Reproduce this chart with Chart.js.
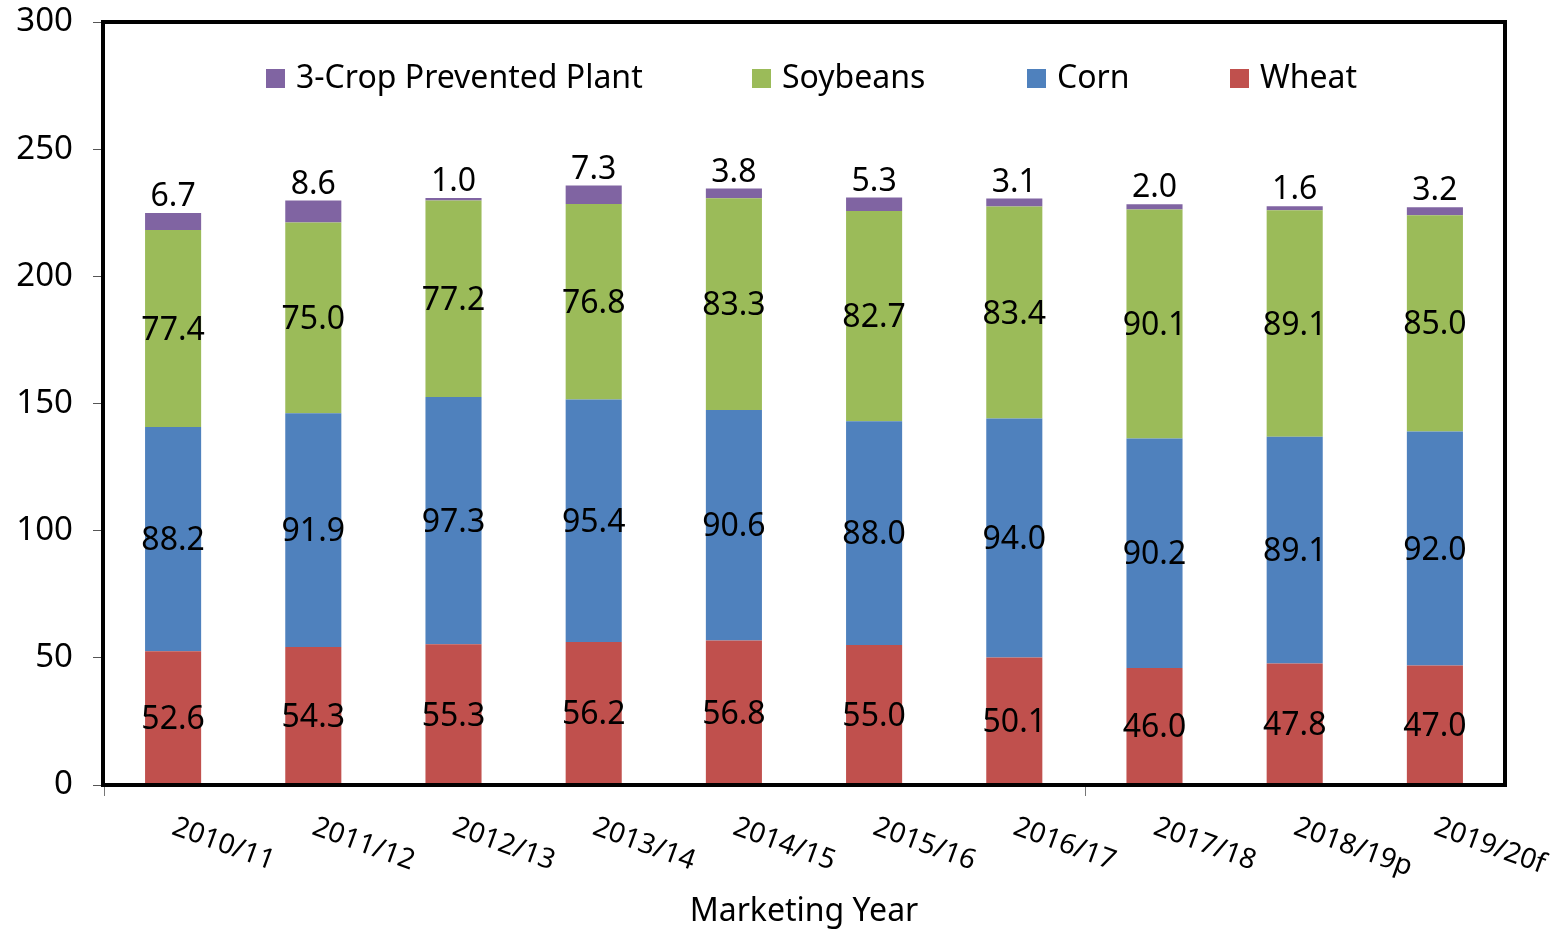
<!DOCTYPE html>
<html>
<head>
<meta charset="utf-8">
<script src="https://cdn.jsdelivr.net/npm/chart.js@4"></script>
<style>
  html, body { margin: 0; padding: 0; background: #fff; }
  #wrap { width: 1554px; height: 931px; }
</style>
</head>
<body>
<div id="wrap"><canvas id="cropChart"></canvas></div>
<script>
// data
const years = ['2010/11', '2011/12', '2012/13', '2013/14', '2014/15', '2015/16', '2016/17', '2017/18', '2018/19p', '2019/20f'];
const wheat = [52.6, 54.3, 55.3, 56.2, 56.8, 55.0, 50.1, 46.0, 47.8, 47.0];
const corn = [88.2, 91.9, 97.3, 95.4, 90.6, 88.0, 94.0, 90.2, 89.1, 92.0];
const soybeans = [77.4, 75.0, 77.2, 76.8, 83.3, 82.7, 83.4, 90.1, 89.1, 85.0];
const preventedPlant = [6.7, 8.6, 1.0, 7.3, 3.8, 5.3, 3.1, 2.0, 1.6, 3.2];
const yTicks = [0, 50, 100, 150, 200, 250, 300];

const FONT = '"Noto Sans", "Open Sans", sans-serif';

// legend order as in the picture (top of stack first)
const legendOrder = [3, 2, 1, 0];

const extras = {
    id: 'extras',
    afterDatasetsDraw(chart) {
        const { ctx, chartArea } = chart;
        const xs = chart.scales.x;
        ctx.save();

        // values inside segments, prevented plant on top
        ctx.fillStyle = '#000';
        ctx.font = '32px ' + FONT;
        ctx.textAlign = 'center';
        chart.data.datasets.forEach((ds, i) => {
            const meta = chart.getDatasetMeta(i);
            meta.data.forEach((bar, j) => {
                const txt = ds.data[j].toFixed(1);
                if (i === 3) {
                    ctx.textBaseline = 'bottom';
                    ctx.fillText(txt, bar.x, bar.y);
                } else {
                    ctx.textBaseline = 'middle';
                    ctx.fillText(txt, bar.x, (bar.y + bar.base) / 2 + 2);
                }
            });
        });

        // frame round the plot
        ctx.strokeStyle = '#000';
        ctx.lineWidth = 4;
        ctx.strokeRect(chartArea.left, chartArea.top, chartArea.right - chartArea.left, chartArea.bottom - chartArea.top);

        // small ticks under the x axis
        ctx.strokeStyle = '#777';
        ctx.lineWidth = 1;
        const step = (xs.right - xs.left) / years.length;
        [0, 7].forEach(k => {
            const x = Math.round(xs.left + step * k) + 1.5;
            ctx.beginPath();
            ctx.moveTo(x, chartArea.bottom + 2);
            ctx.lineTo(x, chartArea.bottom + 11);
            ctx.stroke();
        });

        // slanted category labels
        ctx.fillStyle = '#000';
        ctx.font = '28px ' + FONT;
        ctx.textAlign = 'left';
        ctx.textBaseline = 'top';
        years.forEach((y, j) => {
            const x = xs.getPixelForValue(j);
            ctx.save();
            ctx.translate(x + 5, chartArea.bottom + 28);
            ctx.rotate(20 * Math.PI / 180);
            ctx.fillText(y, 0, 0);
            ctx.restore();
        });

        // axis title
        ctx.font = '32px ' + FONT;
        ctx.textAlign = 'center';
        ctx.textBaseline = 'middle';
        ctx.fillText('Marketing Year', (chartArea.left + chartArea.right) / 2, 912);

        // legend inside the plot
        const legendX = [266, 752, 1027, 1230];
        ctx.font = '32px ' + FONT;
        ctx.textAlign = 'left';
        legendOrder.forEach((di, k) => {
            const ds = chart.data.datasets[di];
            ctx.fillStyle = ds.backgroundColor;
            ctx.fillRect(legendX[k], 69, 19, 19);
            ctx.fillStyle = '#000';
            ctx.fillText(ds.label, legendX[k] + 30, 79);
        });

        ctx.restore();
    }
};

new Chart(document.getElementById('cropChart'), {
    type: 'bar',
    data: {
        labels: years,
        datasets: [
            { label: 'Wheat', data: wheat, backgroundColor: '#C0504D' },
            { label: 'Corn', data: corn, backgroundColor: '#4F81BD' },
            { label: 'Soybeans', data: soybeans, backgroundColor: '#9BBB59' },
            { label: '3-Crop Prevented Plant', data: preventedPlant, backgroundColor: '#8064A2' }
        ]
    },
    options: {
        responsive: true,
        maintainAspectRatio: false,
        animation: false,
        layout: { padding: { top: 22, right: 49, bottom: 0, left: 0 } },
        datasets: {
            bar: { barPercentage: 0.4, categoryPercentage: 1.0, borderWidth: 0 }
        },
        scales: {
            x: {
                stacked: true,
                grid: { display: false },
                border: { display: false },
                ticks: { display: false },
                afterFit(scale) { scale.height = 146; }
            },
            y: {
                stacked: true,
                min: 0,
                max: 300,
                afterBuildTicks(scale) { scale.ticks = yTicks.map(v => ({ value: v })); },
                grid: { drawOnChartArea: false, drawTicks: true, tickLength: 10, color: '#555' },
                border: { display: false },
                ticks: { font: { family: FONT, size: 33 }, color: '#000', padding: 20 },
                afterFit(scale) {
                    scale.width = 103;
                    scale.paddingTop = 0;
                    scale.paddingBottom = 0;
                }
            }
        },
        plugins: {
            legend: { display: false },
            tooltip: { enabled: false }
        }
    },
    plugins: [extras]
});
</script>
</body>
</html>
